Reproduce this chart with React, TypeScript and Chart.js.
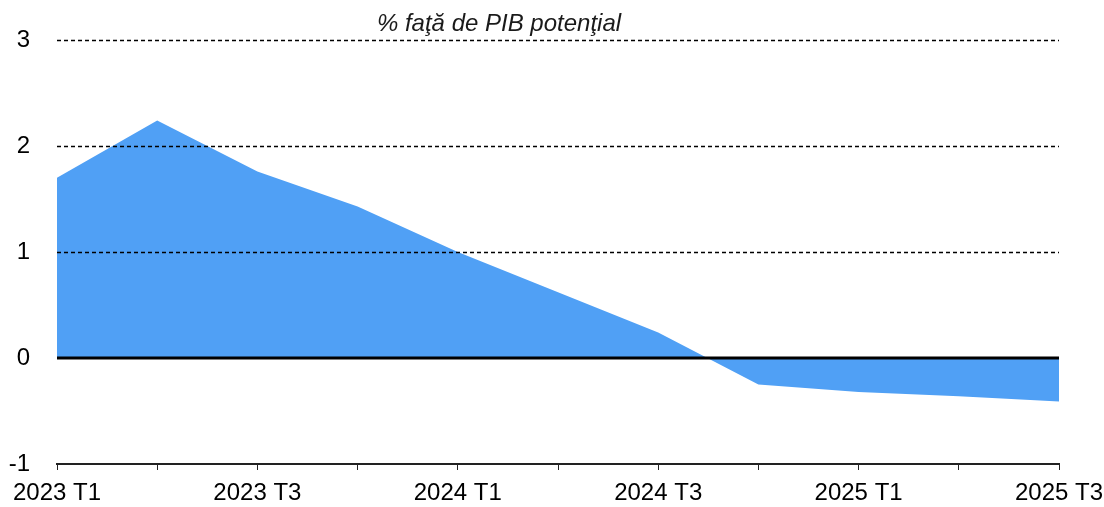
import React, { useEffect, useRef } from "react";
import { Chart, registerables } from "chart.js";

Chart.register(...registerables);

const categories = [
  "2023 T1", "2023 T2", "2023 T3", "2023 T4",
  "2024 T1", "2024 T2", "2024 T3", "2024 T4",
  "2025 T1", "2025 T2", "2025 T3",
];
const gapValues = [1.7, 2.24, 1.76, 1.43, 1.0, 0.62, 0.24, -0.25, -0.32, -0.36, -0.41];
const yTicks = [-1, 0, 1, 2, 3];
const dashedLevels = [1, 2, 3];
const titleText = "% faţă de PIB potenţial";

const FONT = "'Liberation Sans', Arial, sans-serif";

const overlayPlugin = {
  id: "overlay",
  afterDatasetsDraw(chart: any) {
    const { ctx, chartArea, scales } = chart;
    const y = scales.y;
    ctx.save();
    ctx.strokeStyle = "#000";
    ctx.lineWidth = 1.3;
    ctx.setLineDash([4, 3]);
    for (const v of dashedLevels) {
      const py = Math.round(y.getPixelForValue(v)) + 0.5;
      ctx.beginPath();
      ctx.moveTo(chartArea.left, py);
      ctx.lineTo(chartArea.right, py);
      ctx.stroke();
    }
    ctx.setLineDash([]);
    ctx.lineWidth = 3;
    const z = Math.round(y.getPixelForValue(0));
    ctx.beginPath();
    ctx.moveTo(chartArea.left, z);
    ctx.lineTo(chartArea.right, z);
    ctx.stroke();
    ctx.fillStyle = "#1a1a1a";
    ctx.font = `italic 24px ${FONT}`;
    ctx.textAlign = "center";
    ctx.textBaseline = "alphabetic";
    ctx.fillText(titleText, 499, 31);
    ctx.restore();
  },
};

export default function App() {
  const ref = useRef<HTMLCanvasElement>(null);
  useEffect(() => {
    if (!ref.current) return;
    const chart = new Chart(ref.current, {
      type: "line",
      data: {
        labels: categories,
        datasets: [
          {
            data: gapValues,
            fill: "origin",
            backgroundColor: "#50A0F5",
            borderWidth: 0,
            borderColor: "rgba(0,0,0,0)",
            pointRadius: 0,
            tension: 0,
          },
        ],
      },
      plugins: [overlayPlugin],
      options: {
        animation: false,
        responsive: false,
        maintainAspectRatio: false,
        layout: { padding: { left: 0, right: 45, top: 40, bottom: 0 } },
        plugins: {
          legend: { display: false },
          tooltip: { enabled: false },
          title: { display: false },
        },
        scales: {
          x: {
            type: "category",
            offset: false,
            border: { display: true, color: "#222", width: 2 },
            grid: {
              display: true,
              drawOnChartArea: false,
              drawTicks: true,
              tickLength: 6,
              color: "#222",
              lineWidth: 1,
            },
            ticks: {
              autoSkip: false,
              maxRotation: 0,
              minRotation: 0,
              padding: 9,
              color: "#000",
              font: { family: FONT, size: 24 },
              callback: (_v: any, i: number) => (i % 2 === 0 ? categories[i] : ""),
            },
            afterFit: (s: any) => {
              s.height = 43;
              s.paddingLeft = 0;
              s.paddingRight = 0;
            },
          },
          y: {
            min: -1,
            max: 3,
            afterBuildTicks: (s: any) => {
              s.ticks = yTicks.map((v) => ({ value: v }));
            },
            border: { display: false },
            grid: { display: false, drawTicks: false },
            ticks: {
              padding: 27,
              color: "#000",
              font: { family: FONT, size: 24 },
            },
            afterFit: (s: any) => {
              s.width = 57;
              s.paddingTop = 0;
              s.paddingBottom = 0;
            },
          },
        },
      },
    });
    return () => chart.destroy();
  }, []);
  return (
    <div style={{ position: "absolute", left: 0, top: 0, width: 1104, height: 507, background: "#fff" }}>
      <canvas ref={ref} width={1104} height={507} style={{ display: "block" }} />
    </div>
  );
}
